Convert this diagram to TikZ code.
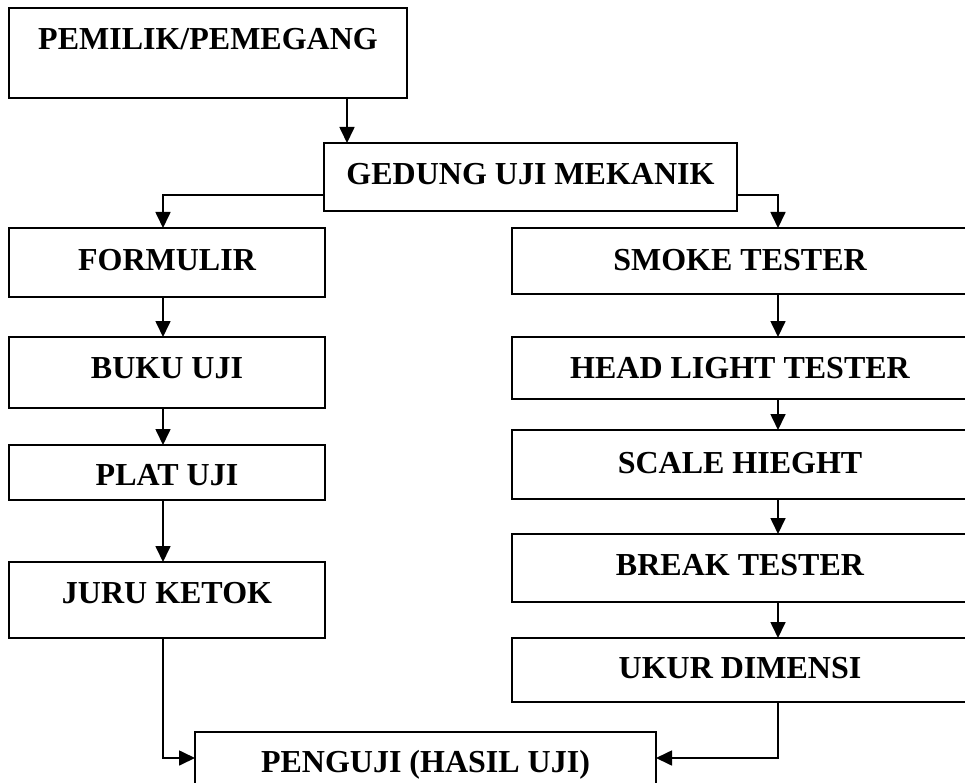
\documentclass[tikz,border=0pt]{standalone}
\usepackage{fontspec}
\setmainfont{Liberation Serif}
\usetikzlibrary{arrows.meta}

\begin{document}
\begin{tikzpicture}[x=1pt,y=-1pt,
  box/.style={draw, line width=1.7pt, inner sep=0pt, outer sep=0pt,
    anchor=north west, font=\fontsize{32}{38}\selectfont\bfseries},
  lbox/.style={box, minimum width=316pt},
  rbox/.style={box, minimum width=456pt},
  flow/.style={line width=1.7pt, -{Triangle[length=16pt,width=15pt]}}]
  \path[use as bounding box] (0,0) rectangle (965,783);
  \clip (0,0) rectangle (965,783);

  % top of the flow
  \node[box, minimum width=398pt, text height=42pt, text depth=48pt] (pem) at (9,8) {PEMILIK/PEMEGANG};
  \node[box, minimum width=413pt, text height=42pt, text depth=26pt] (ged) at (324,143) {GEDUNG UJI MEKANIK};

  % left branch
  \node[lbox, text height=43pt, text depth=26pt] (form) at (9,228) {FORMULIR};
  \node[lbox, text height=41pt, text depth=30pt] (buku) at (9,337) {BUKU UJI};
  \node[lbox, text height=40pt, text depth=15pt] (plat) at (9,445) {PLAT UJI};
  \node[lbox, text height=41pt, text depth=35pt] (juru) at (9,562) {JURU KETOK};

  % right branch
  \node[rbox, text height=43pt, text depth=23pt] (smoke) at (512,228) {SMOKE TESTER};
  \node[rbox, text height=41pt, text depth=21pt] (head) at (512,337) {HEAD LIGHT TESTER};
  \node[rbox, text height=43pt, text depth=26pt] (scale) at (512,430) {SCALE HIEGHT};
  \node[rbox, text height=41pt, text depth=27pt] (break) at (512,534) {BREAK TESTER};
  \node[rbox, text height=40pt, text depth=24pt] (ukur) at (512,638) {UKUR DIMENSI};

  % result
  \node[box, minimum width=461pt, text height=40pt, text depth=18pt] (peng) at (195,732) {PENGUJI (HASIL UJI)};

  % connectors
  \draw[flow] ([xshift=139pt]pem.south) -- ([xshift=139pt]pem.south |- ged.north);
  \draw[flow] ([yshift=-18pt]ged.west) -| ([xshift=-4pt]form.north);
  \draw[flow] ([yshift=-18pt]ged.east) -| ([xshift=38pt]smoke.north);

  \draw[flow] ([xshift=-4pt]form.south) -- ([xshift=-4pt]buku.north);
  \draw[flow] ([xshift=-4pt]buku.south) -- ([xshift=-4pt]plat.north);
  \draw[flow] ([xshift=-4pt]plat.south) -- ([xshift=-4pt]juru.north);
  \draw[flow] ([xshift=-4pt]juru.south) |- ([yshift=3pt]peng.west);

  \draw[flow] ([xshift=38pt]smoke.south) -- ([xshift=38pt]head.north);
  \draw[flow] ([xshift=38pt]head.south) -- ([xshift=38pt]scale.north);
  \draw[flow] ([xshift=38pt]scale.south) -- ([xshift=38pt]break.north);
  \draw[flow] ([xshift=38pt]break.south) -- ([xshift=38pt]ukur.north);
  \draw[flow] ([xshift=38pt]ukur.south) |- ([yshift=3pt]peng.east);
\end{tikzpicture}
\end{document}
